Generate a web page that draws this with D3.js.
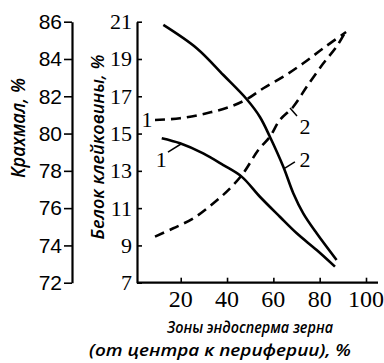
<!DOCTYPE html>
<html><head><meta charset="utf-8">
<script src="https://cdn.jsdelivr.net/npm/d3@7"></script>
<style>
html,body{margin:0;padding:0;background:#fff;}
svg{display:block;}
</style></head>
<body>
<svg id="c" width="384" height="363"></svg>
<script>
// Data
const xTicks = [20, 40, 60, 80, 100];
const starchTicks = [72, 74, 76, 78, 80, 82, 84, 86];
const proteinTicks = [7, 9, 11, 13, 15, 17, 19, 21];

// Starch (left axis), solid lines
const starch1X = [11.8, 19.7, 29.7, 38.4, 46.3, 54.2, 62.8, 70.1, 78.7, 86.6];
const starch1Y = [79.75, 79.48, 78.94, 78.31, 77.69, 76.61, 75.54, 74.65, 73.75, 72.86];
const starch2X = [12.5, 26.9, 38.4, 48.5, 54.2, 58.5, 64.3, 68.6, 72.9, 78.7, 87.3];
const starch2Y = [85.83, 84.58, 83.14, 81.84, 80.89, 79.83, 78.22, 76.8, 75.72, 74.65, 73.22];

// Protein (right axis), dashed lines
const protein1X = [8.9, 19.7, 31.2, 41.3, 48.5, 55.7, 64.3, 72.9, 81.6, 91.4];
const protein1Y = [15.73, 15.82, 16.09, 16.44, 16.84, 17.43, 18.05, 18.77, 19.58, 20.45];
const protein2X = [8.9, 16.8, 25.4, 34.1, 41.3, 47.0, 53.5, 58.5, 62.8, 68.6, 74.4, 81.6, 87.3, 90.9];
const protein2Y = [9.47, 9.92, 10.45, 11.26, 12.06, 12.87, 14.12, 14.83, 15.73, 16.44, 17.51, 18.77, 19.66, 20.41];

// Curve labels (data coordinates) and leader lines
const curveLabels = [
  {t: "1", cx: 5.4, cy: 15.78, axis: "p"},
  {t: "1", cx: 11.6, cy: 78.6, axis: "s"},
  {t: "2", cx: 73.7, cy: 15.4, axis: "p"},
  {t: "2", cx: 73.7, cy: 78.6, axis: "s"}
];
const leaders = [
  {a: [14.5, 79.01], b: [20.1, 79.44], axis: "s"},
  {a: [67.2, 16.37], b: [70.2, 15.94], axis: "p"},
  {a: [65.0, 78.15], b: [69.3, 78.48], axis: "s"}
];

const svg = d3.select("#c");
const x = d3.scaleLinear().domain([0, 100]).range([134.4, 366]);
const yS = d3.scaleLinear().domain([72, 86]).range([282.7, 21.7]);
const yP = d3.scaleLinear().domain([7, 21]).range([282.7, 21.7]);
const yOf = a => a === "p" ? yP : yS;

const serif = "'Liberation Serif','Times New Roman',serif";
const sans = "'Liberation Sans',Arial,sans-serif";
const ital = "'Open Sans','Noto Sans',sans-serif";

// Left axis (starch)
const gL = svg.append("g").attr("transform", "translate(72,0)")
  .call(d3.axisLeft(yS).tickValues(starchTicks).tickSize(8).tickPadding(2).tickSizeOuter(0));
gL.select(".domain").attr("stroke-width", 2.2);
gL.selectAll(".tick line").attr("stroke-width", 1.6);
gL.selectAll("text").attr("font-family", sans).attr("font-size", 21).attr("fill", "#000");

// Right axis (protein) at x=137, ticks inward
const gP = svg.append("g").attr("transform", "translate(137,0)")
  .call(d3.axisRight(yP).tickValues(proteinTicks).tickSize(5).tickSizeOuter(0).tickFormat(""));
gP.select(".domain").attr("stroke-width", 2.2);
gP.selectAll(".tick line").attr("stroke-width", 1.6);
svg.append("g").selectAll("text").data(proteinTicks).join("text")
  .attr("x", 132).attr("y", d => yP(d)).attr("dy", "0.34em")
  .attr("text-anchor", "end").attr("font-family", serif).attr("font-size", 22)
  .text(d => d);

// X axis
const gX = svg.append("g").attr("transform", "translate(0,282.7)")
  .call(d3.axisTop(x).tickValues(xTicks).tickSize(5).tickSizeOuter(0).tickFormat(""));
gX.select(".domain").attr("d", "M137,0H378").attr("stroke-width", 2.2);
gX.selectAll(".tick line").attr("stroke-width", 1.6);
svg.append("g").selectAll("text").data(xTicks).join("text")
  .attr("x", d => x(d)).attr("y", 307)
  .attr("text-anchor", "middle").attr("font-family", serif).attr("font-size", 24)
  .text(d => d);

// Curves
const mk = (xs, ys) => xs.map((v, i) => [v, ys[i]]);
const lineS = d3.line().x(d => x(d[0])).y(d => yS(d[1])).curve(d3.curveCatmullRom);
const lineP = d3.line().x(d => x(d[0])).y(d => yP(d[1])).curve(d3.curveCatmullRom);

[mk(starch1X, starch1Y), mk(starch2X, starch2Y)].forEach(pts => {
  svg.append("path").attr("d", lineS(pts)).attr("fill", "none")
    .attr("stroke", "#000").attr("stroke-width", 2.6);
});
[mk(protein1X, protein1Y), mk(protein2X, protein2Y)].forEach(pts => {
  svg.append("path").attr("d", lineP(pts)).attr("fill", "none")
    .attr("stroke", "#000").attr("stroke-width", 2.6).attr("stroke-dasharray", "10,6");
});

// Curve labels
svg.append("g").selectAll("text").data(curveLabels).join("text")
  .attr("x", d => x(d.cx)).attr("y", d => yOf(d.axis)(d.cy)).attr("dy", "0.35em")
  .attr("text-anchor", "middle").attr("font-family", serif).attr("font-size", 22)
  .text(d => d.t);
svg.append("g").selectAll("line").data(leaders).join("line")
  .attr("x1", d => x(d.a[0])).attr("y1", d => yOf(d.axis)(d.a[1]))
  .attr("x2", d => x(d.b[0])).attr("y2", d => yOf(d.axis)(d.b[1]))
  .attr("stroke", "#000").attr("stroke-width", 1.5);

// Axis titles
const title = (sel) => sel.attr("font-family", ital).attr("font-style", "italic")
  .attr("font-weight", 600).attr("fill", "#000");
svg.append("text").attr("transform", "translate(25,128) rotate(-90)")
  .attr("text-anchor", "middle").attr("font-size", 19).call(title)
  .attr("textLength", 100).attr("lengthAdjust", "spacingAndGlyphs").text("Крахмал, %");
svg.append("text").attr("transform", "translate(104,147) rotate(-90)")
  .attr("text-anchor", "middle").attr("font-size", 18.5).call(title)
  .attr("textLength", 185).attr("lengthAdjust", "spacingAndGlyphs").text("Белок клейковины, %");
svg.append("text").attr("x", 250).attr("y", 333)
  .attr("text-anchor", "middle").attr("font-size", 17).call(title)
  .attr("textLength", 166).attr("lengthAdjust", "spacingAndGlyphs")
  .text("Зоны эндосперма зерна");
svg.append("text").attr("x", 220).attr("y", 356)
  .attr("text-anchor", "middle").attr("font-size", 17).call(title)
  .attr("textLength", 262).attr("lengthAdjust", "spacingAndGlyphs")
  .text("(от центра к периферии), %");
</script>
</body></html>
